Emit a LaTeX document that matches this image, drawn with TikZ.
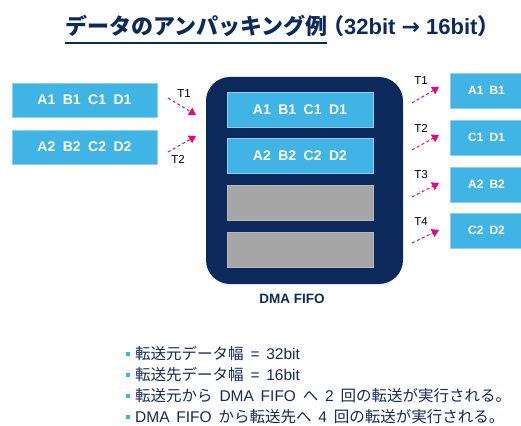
\documentclass[tikz,border=0pt]{standalone}
\usepackage{fontspec}
\setmainfont{Liberation Sans}
\newfontfamily\jp{Noto Sans CJK JP}
\newfontfamily\arr{DejaVu Sans}
\usetikzlibrary{arrows.meta}
\definecolor{navy}{HTML}{0B2A5B}
\definecolor{txtnavy}{HTML}{14295A}
\definecolor{boxblue}{HTML}{41B4E6}
\definecolor{boxedge}{HTML}{8CD2F0}
\definecolor{fifogray}{HTML}{A6A6A6}
\definecolor{mag}{HTML}{E5097F}
\newcommand\gp{\hspace{7.5pt}}
\newcommand\gq{\hspace{6pt}}
\newcommand\ws{\hspace{6.8pt}}
\tikzset{
  bluebox/.style={fill=boxblue, draw=boxedge, line width=0.6pt, text=white, inner sep=0pt,
    font=\bfseries\fontsize{14}{14}\selectfont},
  smallbox/.style={bluebox, font=\bfseries\fontsize{12}{12}\selectfont},
  graybox/.style={fill=fifogray, draw=fifogray!80!white, line width=0.6pt, inner sep=0pt},
  xfer/.style={draw=mag, line width=1pt, dash pattern=on 3pt off 2.5pt,
    -{Triangle[length=7pt,width=8.5pt]}},
  tlabel/.style={font=\fontsize{11.5}{11.5}\selectfont, text=black, inner sep=0pt},
  bul/.style={fill=boxblue, minimum size=4pt, inner sep=0pt},
  bultext/.style={anchor=west, text=txtnavy, inner sep=0pt, font=\fontsize{15.5}{15.5}\selectfont}
}
\begin{document}
\begin{tikzpicture}[x=1pt,y=-1pt]
\useasboundingbox (0,0) rectangle (521,425);
% title
\node[anchor=base west, inner sep=0pt, text=navy] (title) at (65,35)
  {\fontsize{22}{22}\selectfont\jp\bfseries データのアンパッキング例};
\draw[navy, line width=1.5pt] (65,43) -- (327,43);
\node[anchor=base west, inner sep=0pt, text=navy] (title2) at (322,35)
  {\fontsize{22}{22}\selectfont\bfseries{\jp （}32bit {\arr →} 16bit{\jp ）}};
% left source boxes
\node[bluebox, minimum width=145pt, minimum height=34pt] (s1) at (84.5,100) {A1\gp B1\gp C1\gp D1};
\node[bluebox, minimum width=145pt, minimum height=34pt] (s2) at (84.5,147) {A2\gp B2\gp C2\gp D2};
% FIFO
\node[fill=navy, rounded corners=24pt, minimum width=197pt, minimum height=207pt, inner sep=0pt] (fifo) at (304.5,180.5) {};
\node[bluebox, minimum width=146pt, minimum height=35pt] (f1) at (300,109.5) {A1\gp B1\gp C1\gp D1};
\node[bluebox, minimum width=146pt, minimum height=35pt] (f2) at (300,155.5) {A2\gp B2\gp C2\gp D2};
\node[graybox, minimum width=146pt, minimum height=35pt] (f3) at (300,202.5) {};
\node[graybox, minimum width=146pt, minimum height=35pt] (f4) at (300,249.5) {};
\node[text=navy, font=\bfseries\fontsize{13.5}{13.5}\selectfont, inner sep=0pt] (fifolabel) at (292,299) {DMA FIFO};
% right destination boxes
\node[smallbox, minimum width=73pt, minimum height=35pt] (d1) at (486.5,90.5) {A1\gq B1};
\node[smallbox, minimum width=73pt, minimum height=35pt] (d2) at (486.5,137.5) {C1\gq D1};
\node[smallbox, minimum width=73pt, minimum height=35pt] (d3) at (486.5,184.5) {A2\gq B2};
\node[smallbox, minimum width=73pt, minimum height=35pt] (d4) at (486.5,230.5) {C2\gq D2};
% left arrows
\coordinate (l1s) at (168,98);  \coordinate (l1e) at (196,115);
\coordinate (l2s) at (168,152); \coordinate (l2e) at (196,136);
\draw[xfer] (l1s) -- (l1e);
\draw[xfer] (l2s) -- (l2e);
\node[tlabel] (lt1) at (184,94) {T1};
\node[tlabel] (lt2) at (178,159) {T2};
% right arrows
\coordinate (r1s) at (412,103); \coordinate (r1e) at (439,87);
\coordinate (r2s) at (412,150); \coordinate (r2e) at (439,135);
\coordinate (r3s) at (412,197); \coordinate (r3e) at (439,183);
\coordinate (r4s) at (412,243); \coordinate (r4e) at (439,230);
\draw[xfer] (r1s) -- (r1e);
\draw[xfer] (r2s) -- (r2e);
\draw[xfer] (r3s) -- (r3e);
\draw[xfer] (r4s) -- (r4e);
\node[tlabel] (rt1) at (421,81) {T1};
\node[tlabel] (rt2) at (421,128) {T2};
\node[tlabel] (rt3) at (421,175) {T3};
\node[tlabel] (rt4) at (421,222) {T4};
% bullet list
\node[bul] (b1) at (128,354) {};
\node[bul] (b2) at (128,375) {};
\node[bul] (b3) at (128,396) {};
\node[bul] (b4) at (128,417) {};
\node[bultext] (t1) at (135,354) {{\jp 転送元データ幅}\ws=\ws32bit};
\node[bultext] (t2) at (135,375) {{\jp 転送先データ幅}\ws=\ws16bit};
\node[bultext] (t3) at (135,396) {{\jp 転送元から}\ws DMA\ws FIFO\ws{\jp へ}\ws2\ws{\jp 回の転送が実行される。}};
\node[bultext] (t4) at (135,417) {DMA\ws FIFO\ws{\jp から転送先へ}\ws4\ws{\jp 回の転送が実行される。}};
\end{tikzpicture}
\end{document}
